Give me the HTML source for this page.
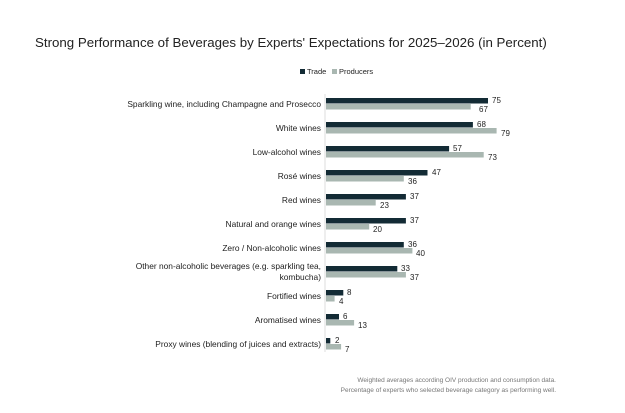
<!DOCTYPE html>
<html><head><style>
body{margin:0;background:#fff;width:625px;height:408px;overflow:hidden;font-family:"Liberation Sans",sans-serif;}
</style></head><body>
<svg width="625" height="408" xmlns="http://www.w3.org/2000/svg" font-family="Liberation Sans, sans-serif">
<text x="35" y="47" font-size="13.3" fill="#222">Strong Performance of Beverages by Experts' Expectations for 2025–2026 (in Percent)</text>
<rect x="300" y="69" width="5" height="5" fill="#132b35"/>
<text x="307" y="74" font-size="7.5" fill="#222">Trade</text>
<rect x="332" y="69" width="5" height="5" fill="#a9b7b1"/>
<text x="339" y="74" font-size="7.5" fill="#222">Producers</text>
<line x1="325" y1="94" x2="325" y2="352" stroke="#ddd" stroke-width="1"/>
<g fill="#132b35">
<rect x="326" y="98" width="162" height="5.5"/>
<rect x="326" y="122" width="146.9" height="5.5"/>
<rect x="326" y="146" width="123.1" height="5.5"/>
<rect x="326" y="170" width="101.5" height="5.5"/>
<rect x="326" y="194" width="79.9" height="5.5"/>
<rect x="326" y="218" width="79.9" height="5.5"/>
<rect x="326" y="242" width="77.8" height="5.5"/>
<rect x="326" y="266" width="71.3" height="5.5"/>
<rect x="326" y="290" width="17.3" height="5.5"/>
<rect x="326" y="314" width="13" height="5.5"/>
<rect x="326" y="338" width="4.3" height="5.5"/>
</g>
<g fill="#a9b7b1">
<rect x="326" y="104" width="144.7" height="5.5"/>
<rect x="326" y="128" width="170.6" height="5.5"/>
<rect x="326" y="152" width="157.7" height="5.5"/>
<rect x="326" y="176" width="77.8" height="5.5"/>
<rect x="326" y="200" width="49.7" height="5.5"/>
<rect x="326" y="224" width="43.2" height="5.5"/>
<rect x="326" y="248" width="86.4" height="5.5"/>
<rect x="326" y="272" width="79.9" height="5.5"/>
<rect x="326" y="296" width="8.6" height="5.5"/>
<rect x="326" y="320" width="28.1" height="5.5"/>
<rect x="326" y="344" width="15.1" height="5.5"/>
</g>
<g font-size="8" fill="#222">
<text x="492" y="103">75</text><text x="479" y="112">67</text>
<text x="477" y="127">68</text><text x="501" y="136">79</text>
<text x="453" y="151">57</text><text x="488" y="160">73</text>
<text x="432" y="175">47</text><text x="408" y="184">36</text>
<text x="410" y="199">37</text><text x="380" y="208">23</text>
<text x="410" y="223">37</text><text x="373" y="232">20</text>
<text x="408" y="247">36</text><text x="416" y="256">40</text>
<text x="401" y="271">33</text><text x="410" y="280">37</text>
<text x="347" y="295">8</text><text x="339" y="304">4</text>
<text x="343" y="319">6</text><text x="358" y="328">13</text>
<text x="335" y="343">2</text><text x="345" y="352">7</text>
</g>
<g font-size="8.4" fill="#222" text-anchor="end">
<text x="321" y="107">Sparkling wine, including Champagne and Prosecco</text>
<text x="321" y="131">White wines</text>
<text x="321" y="155">Low-alcohol wines</text>
<text x="321" y="179">Rosé wines</text>
<text x="321" y="203">Red wines</text>
<text x="321" y="227">Natural and orange wines</text>
<text x="321" y="251">Zero / Non-alcoholic wines</text>
<text x="321" y="269">Other non-alcoholic beverages (e.g. sparkling tea,</text>
<text x="321" y="280">kombucha)</text>
<text x="321" y="299">Fortified wines</text>
<text x="321" y="323">Aromatised wines</text>
<text x="321" y="347">Proxy wines (blending of juices and extracts)</text>
</g>
<text x="556" y="382" font-size="6.5" fill="#777" text-anchor="end">Weighted averages according OIV production and consumption data.</text>
<text x="556" y="392" font-size="6.5" fill="#777" text-anchor="end">Percentage of experts who selected beverage category as performing well.</text>
</svg>
</body></html>
